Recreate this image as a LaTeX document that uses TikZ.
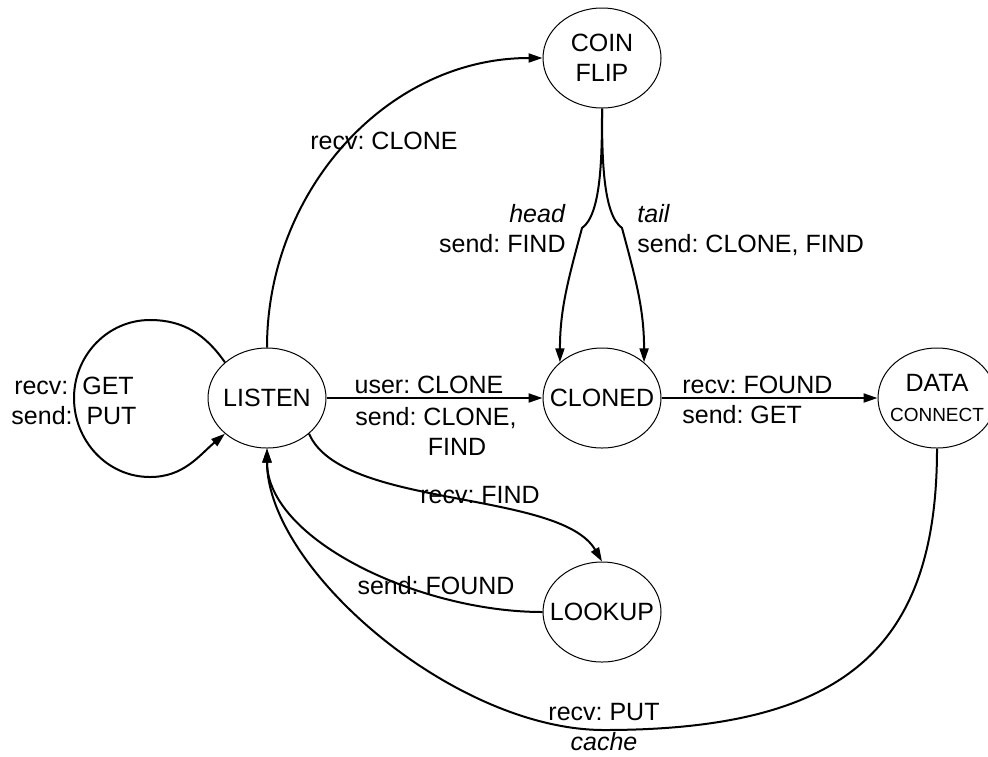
\documentclass[tikz,border=0pt]{standalone}
\usepackage{fontspec}
\setmainfont{Liberation Sans}
\usetikzlibrary{shapes.geometric,arrows.meta}
\frenchspacing

\begin{document}
\begin{tikzpicture}[x=0.5pt,y=0.5pt,
		state/.style={ellipse,draw,line width=0.5pt,minimum width=59pt,minimum height=50pt,inner xsep=-8pt,inner ysep=0pt,align=center,font=\fontsize{12.5}{15}\selectfont},
		lbl/.style={inner sep=0pt,font=\fontsize{12.5}{15}\selectfont},
		trans/.style={line width=1pt,-{Triangle[length=7pt,width=4.5pt]}}]
		\useasboundingbox (0,0) rectangle (988,-756);
		\node[state] (coin) at (602,-58) {COIN\\FLIP};
		\node[state] (listen) at (267,-398) {LISTEN};
		\node[state] (cloned) at (602,-398) {CLONED};
		\node[state] (data) at (937,-398) {DATA\\{\fontsize{9.5}{11.5}\selectfont CONNECT}};
		\node[state] (lookup) at (602,-612) {LOOKUP};
		\coordinate (kinkl) at (582,-228);
		\coordinate (kinkr) at (622,-228);
		\coordinate (looptop) at (150,-320);
		\coordinate (loopleft) at (74,-398);
		\coordinate (loopbot) at (150,-477);
		\coordinate (putlow) at (604,-730);
		\draw[trans] (listen.north) to[out=90,in=180] (coin.west);
		\draw[trans] (coin.south) to[out=-90,in=35,in looseness=0.5] (kinkl) to[out=-105,in=90] (cloned.north west);
		\draw[trans] (coin.south) to[out=-90,in=145,in looseness=0.5] (kinkr) to[out=-75,in=90] (cloned.north east);
		\draw[trans] (listen) -- (cloned);
		\draw[trans] (cloned) -- (data);
		\draw[trans] (listen.north west) to[out=125,in=0] (looptop) to[out=180,in=90] (loopleft)
			to[out=-90,in=180] (loopbot) to[out=0,in=220] (listen.south west);
		\draw[trans] (listen.south east) .. controls +(32,-75) and +(-42,72) .. (lookup.north);
		\draw[trans] (lookup.west) .. controls +(-123,0) and +(0,-91) .. (listen.south);
		\draw[trans] (data.south) .. controls +(0,-200) and +(240,0) .. (putlow) .. controls +(-150,0) and +(0,-120) .. (listen.south);
		\node[lbl,align=center] (lloop) at (74,-401) {recv:\ \ GET\\send:\ \ PUT};
		\node[lbl,anchor=base] (lclone) at (384,-149) {recv: CLONE};
		\node[lbl,align=right,anchor=east] (lhead) at (566,-228.5) {\textit{head}\\send: FIND};
		\node[lbl,align=left,anchor=west] (ltail) at (637,-230) {\textit{tail}\\send: CLONE, FIND};
		\node[lbl,anchor=base] (luser) at (429,-393) {user: CLONE};
		\node[lbl,anchor=base west] (lsendc) at (355,-425) {send: CLONE,};
		\node[lbl,anchor=base] (lfindc) at (457,-455) {FIND};
		\node[lbl,align=left,anchor=west] (lfound) at (682,-399.5) {recv: FOUND\\send: GET};
		\node[lbl,anchor=base] (lrfind) at (480,-503) {recv: FIND};
		\node[lbl,anchor=base] (lsfound) at (436,-594) {send: FOUND};
		\node[lbl,align=center] (lput) at (604,-727) {recv: PUT\\\textit{cache}};
	\end{tikzpicture}
\end{document}
